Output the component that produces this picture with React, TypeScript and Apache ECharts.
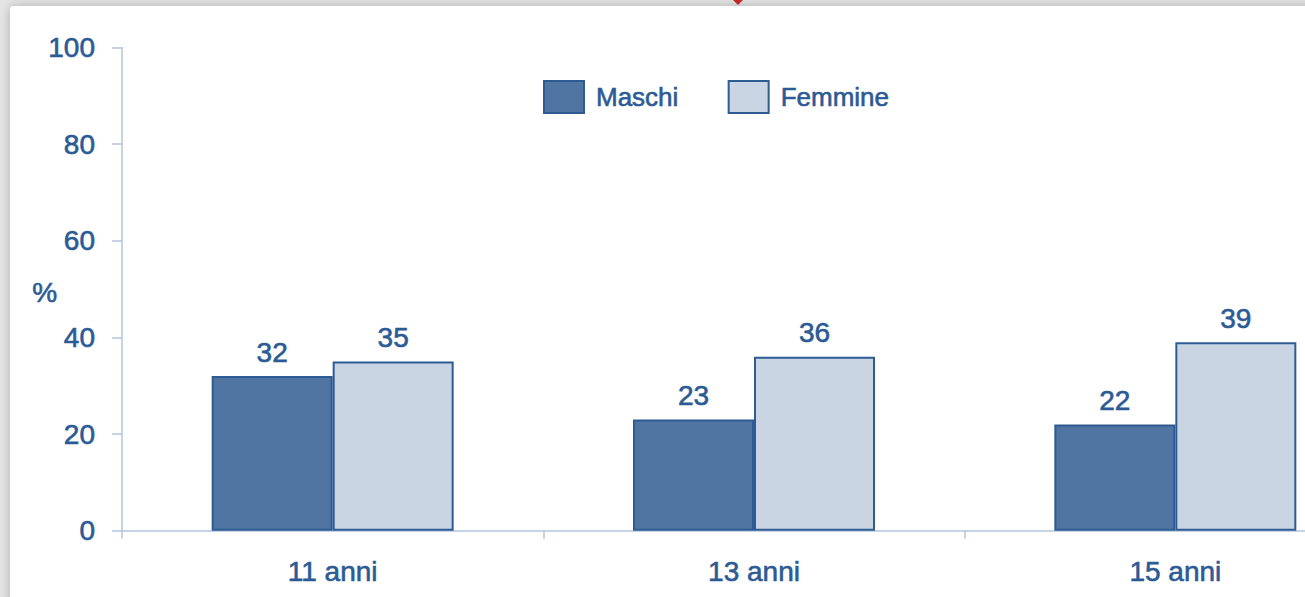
import React, { useEffect, useRef } from "react";
import * as echarts from "echarts";

const categories = ["11 anni", "13 anni", "15 anni"];
const maschi = [32, 23, 22];
const femmine = [35, 36, 39];
const seriesNames = ["Maschi", "Femmine"];
const yTicks = [0, 20, 40, 60, 80, 100];

const TEXT = "#2c5a94";
const AXIS = "#b3c5de";
const BORDER = "#2f5b93";
const FONT = "'Liberation Sans', Arial, sans-serif";
const BOLDEN = { textBorderColor: TEXT, textBorderWidth: 0.6 };

export default function App() {
  const ref = useRef<HTMLDivElement>(null);
  useEffect(() => {
    if (!ref.current) return;
    const chart = echarts.init(ref.current, null, { renderer: "svg" });
    chart.setOption({
      animation: false,
      backgroundColor: "#e6e6e6",
      textStyle: { fontFamily: FONT },
      graphic: [
        {
          type: "rect",
          z: -10,
          shape: { x: 10, y: 6, width: 1420, height: 620, r: 4 },
          style: { fill: "#ffffff", shadowBlur: 12, shadowColor: "rgba(0,0,0,0.25)" },
          silent: true,
        },
        {
          type: "polygon",
          z: -5,
          shape: { points: [[733, 0], [743, 0], [738, 5]] },
          style: { fill: "#c0282a" },
          silent: true,
        },
        {
          type: "text",
          left: 32,
          top: 278,
          style: { text: "%", fill: TEXT, font: `28px ${FONT}`, stroke: TEXT, lineWidth: 0.6 },
        },
      ],
      legend: {
        data: seriesNames,
        left: 538,
        top: 75,
        itemWidth: 40,
        itemHeight: 32,
        itemGap: 49,
        icon: "rect",
        itemStyle: { borderWidth: 2, borderColor: BORDER },
        textStyle: { color: TEXT, fontSize: 26, fontFamily: FONT, padding: [0, 0, 0, 7], ...BOLDEN },
      },
      grid: { left: 122, right: 0, top: 47.5, bottom: 66.3, containLabel: false },
      xAxis: {
        type: "category",
        data: categories,
        axisLine: { lineStyle: { color: AXIS, width: 1.5 } },
        axisTick: { show: true, length: 8, lineStyle: { color: AXIS, width: 1.5 } },
        axisLabel: { color: TEXT, fontSize: 28, fontFamily: FONT, margin: 27, ...BOLDEN },
      },
      yAxis: {
        type: "value",
        min: yTicks[0],
        max: yTicks[yTicks.length - 1],
        interval: 20,
        axisLine: { show: true, lineStyle: { color: AXIS, width: 1.5 } },
        axisTick: { show: true, length: 10, lineStyle: { color: AXIS, width: 1.5 } },
        splitLine: { show: false },
        axisLabel: { color: TEXT, fontSize: 28, fontFamily: FONT, margin: 27, ...BOLDEN },
      },
      series: [
        {
          name: seriesNames[0],
          type: "bar",
          data: maschi,
          barWidth: 121,
          barGap: "0%",
          itemStyle: { color: "#5075a3", borderColor: BORDER, borderWidth: 2 },
          label: { show: true, position: "top", distance: 10, color: TEXT, fontSize: 28, fontFamily: FONT, ...BOLDEN },
        },
        {
          name: seriesNames[1],
          type: "bar",
          data: femmine,
          barWidth: 121,
          barGap: "0%",
          itemStyle: { color: "#c9d5e3", borderColor: BORDER, borderWidth: 2 },
          label: { show: true, position: "top", distance: 10, color: TEXT, fontSize: 28, fontFamily: FONT, ...BOLDEN },
        },
      ],
    });
    return () => chart.dispose();
  }, []);
  return (
    <div style={{ position: "fixed", left: 0, top: 0, width: 1305, height: 597, overflow: "hidden" }}>
      <div ref={ref} style={{ width: 1386, height: 597 }} />
    </div>
  );
}
